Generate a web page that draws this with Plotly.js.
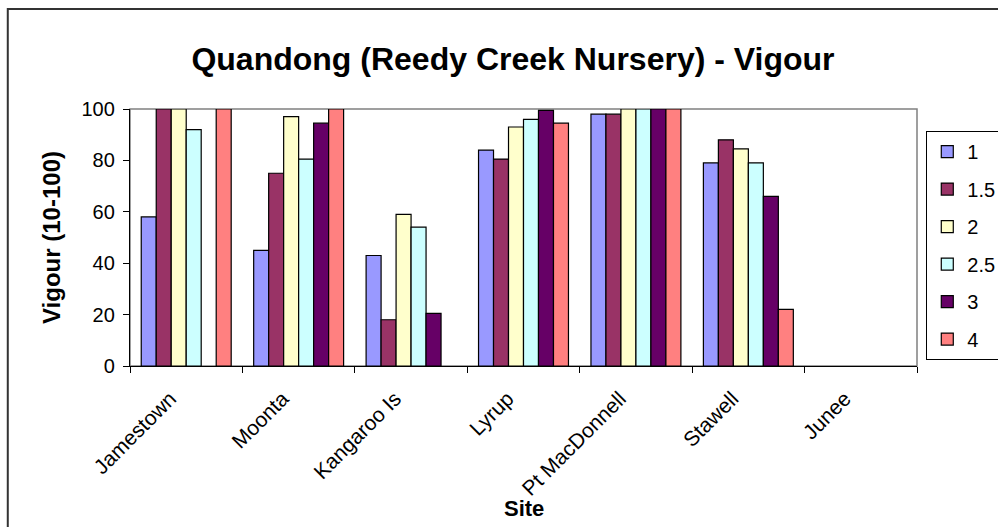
<!DOCTYPE html>
<html><head><meta charset="utf-8">
<script src="https://cdn.plot.ly/plotly-3.0.1.min.js"></script>
<style>html,body{margin:0;padding:0;background:#fff}#chart{width:998px;height:527px}</style>
</head><body><div id="chart"></div>
<script>
const sites = ["Jamestown","Moonta","Kangaroo Is","Lyrup","Pt MacDonnell","Stawell","Junee"];
const seriesNames = ["1","1.5","2","2.5","3","4"];
const colors = ["#9999FF","#993366","#FFFFCC","#CCFFFF","#660066","#FF8080"];
const s1  = [58, 45, 43, 84, 98, 79, null];
const s15 = [100, 75, 18, 80.5, 98, 88, null];
const s2  = [100, 97, 59, 93, 100, 84.5, null];
const s25 = [92, 80.5, 54, 96, 100, 79, null];
const s3  = [null, 94.5, 20.5, 99.5, 100, 66, null];
const s4  = [100, 100, null, 94.5, 100, 22, null];
const values = [s1, s15, s2, s25, s3, s4];

const F = "Arial, 'Liberation Sans', sans-serif";
const traces = values.map((v, i) => ({
  type: "bar", name: seriesNames[i], x: sites, y: v,
  marker: {color: colors[i], line: {color: "#000", width: 1.2}},
  legendgroup: "g" + i
}));

const layout = {
  width: 998, height: 527,
  margin: {l: 130, r: 81, t: 109, b: 161, autoexpand: false},
  paper_bgcolor: "#fff", plot_bgcolor: "#fff",
  barmode: "group", bargap: 0.2, bargroupgap: 0,
  font: {family: F, size: 20, color: "#000"},
  title: {text: "Quandong (Reedy Creek Nursery) - Vigour", font: {family: F, size: 32, color: "#000", weight: "bold"},
          x: 0.514, xanchor: "center", y: 0.888, yanchor: "middle"},
  xaxis: {type: "category", tickangle: -45, ticks: "outside", ticklen: 6, tickcolor: "#000",
          tickson: "boundaries", showline: true, linecolor: "#000", linewidth: 1.2, showgrid: false,
          tickfont: {family: F, size: 21}, automargin: false, ticklabelshift: -16, ticklabelstandoff: 11},
  yaxis: {range: [0, 100], dtick: 20, ticks: "outside", ticklen: 6, tickcolor: "#000",
          showline: true, linecolor: "#000", linewidth: 1.2, showgrid: false, zeroline: false,
          tickfont: {family: F, size: 20}, automargin: false, ticklabelstandoff: 4,
          title: {text: "Vigour (10-100)", font: {family: F, size: 24, weight: "bold"}, standoff: 14}},
  legend: {x: 1.0118, xanchor: "left", y: 0.914, yanchor: "top", bordercolor: "#000", borderwidth: 1,
           bgcolor: "#fff", font: {family: F, size: 20}, traceorder: "grouped", tracegroupgap: 8.5,
           itemwidth: 30},
  annotations: [
    {text: "Site", xref: "paper", yref: "paper", x: 0.5, y: -0.553, xanchor: "center", yanchor: "middle",
     showarrow: false, font: {family: F, size: 22, weight: "bold", color: "#000"}}
  ],
  shapes: [
    {type: "rect", xref: "paper", yref: "paper", x0: 0, x1: 1, y0: 0, y1: 1,
     line: {color: "#808080", width: 1.5}, layer: "below"},
    {type: "rect", xref: "paper", yref: "paper", x0: -0.1553, x1: 1.12, y0: -0.7, y1: 1.389,
     line: {color: "#333", width: 2}, layer: "below"}
  ]
};
Plotly.newPlot("chart", traces, layout, {displayModeBar: false, staticPlot: true});
</script></body></html>
